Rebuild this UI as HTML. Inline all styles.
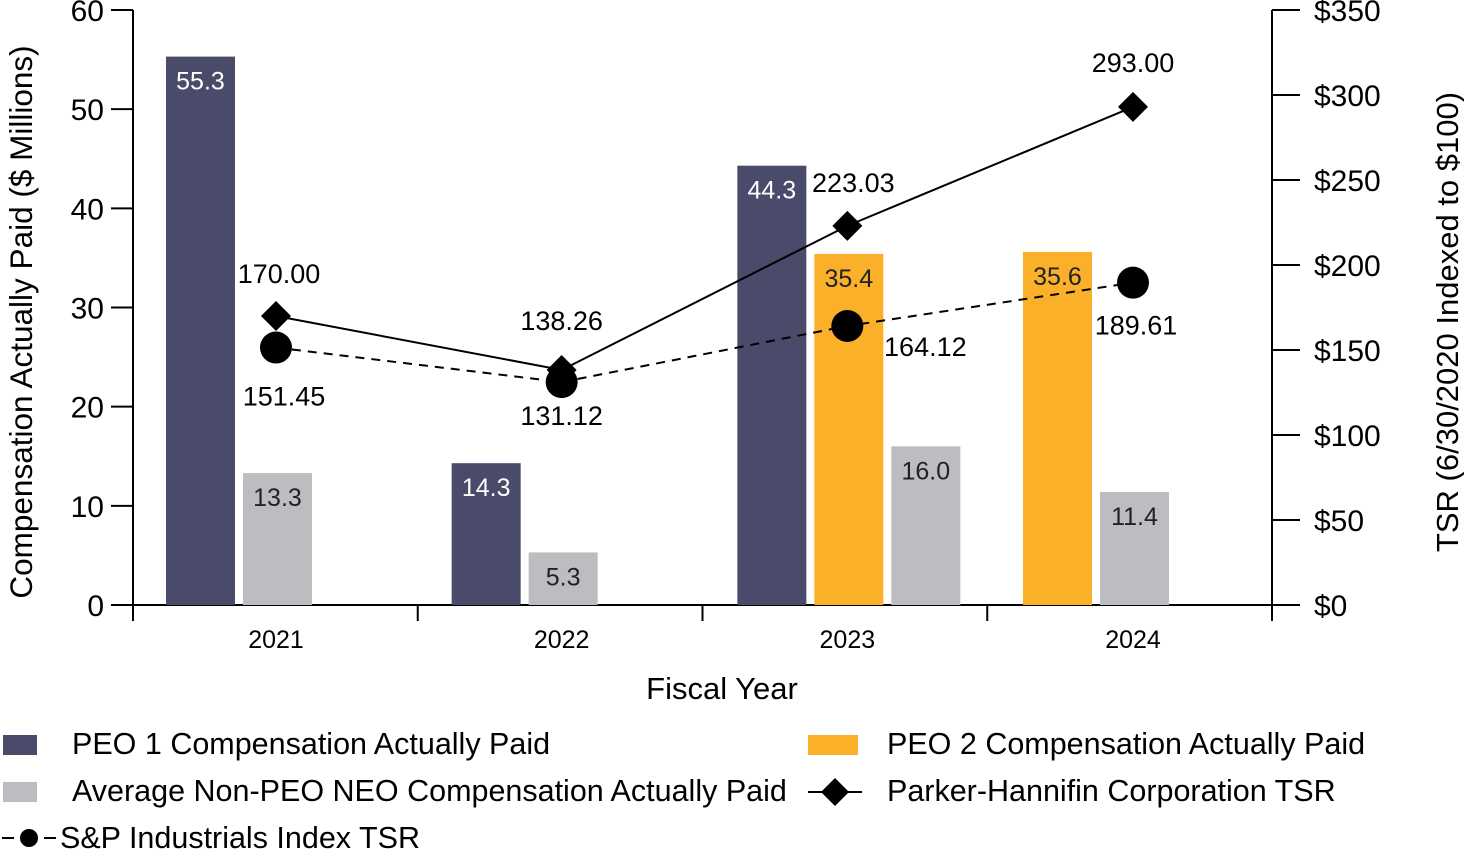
<!DOCTYPE html>
<html><head><meta charset="utf-8"><style>
body{margin:0;background:#fff}
svg text{font-family:"Liberation Sans Narrow","Liberation Sans",sans-serif}
</style></head><body>
<svg id="c" width="1464" height="852" viewBox="0 0 1464 852"></svg>
<script>
const categories=["2021","2022","2023","2024"];
const peo1=[55.3,14.3,44.3,null];
const peo2=[null,null,35.4,35.6];
const avgNeo=[13.3,5.3,16.0,11.4];
const phTsr=[170.00,138.26,223.03,293.00];
const spTsr=[151.45,131.12,164.12,189.61];
const leftTicks=[0,10,20,30,40,50,60];
const rightTicks=[0,50,100,150,200,250,300,350];

const NS="http://www.w3.org/2000/svg";
const svg=document.getElementById('c');
function el(t,a,txt){const e=document.createElementNS(NS,t);for(const k in a)e.setAttribute(k,a[k]);if(txt!=null)e.textContent=txt;svg.appendChild(e);return e;}
const X0=133,X1=1272,Y0=605,YT=10;
const yL=v=>Y0-(v/60)*(Y0-YT);
const yR=v=>Y0-(v/350)*(Y0-YT);
const gw=(X1-X0)/categories.length;
const cx=i=>276+i*((1133-276)/3);
const barW=69,barGap=8;

let a;
a=el('line',{x1:X0,y1:YT,x2:X0,y2:Y0,stroke:'#000','stroke-width':2});

a=el('line',{x1:X1,y1:YT,x2:X1,y2:Y0,stroke:'#000','stroke-width':2});

a=el('line',{x1:X0-22,y1:Y0,x2:X1+28,y2:Y0,stroke:'#000','stroke-width':2});

leftTicks.forEach(v=>{
  el('line',{x1:X0-22,y1:yL(v),x2:X0,y2:yL(v),stroke:'#000','stroke-width':2});
  const t=el('text',{x:104,y:yL(v)+11,'text-anchor':'end','font-size':30},v);
  
});
rightTicks.forEach(v=>{
  el('line',{x1:X1,y1:yR(v),x2:X1+28,y2:yR(v),stroke:'#000','stroke-width':2});
  const t=el('text',{x:1314,y:yR(v)+11,'font-size':30},'$'+v);
  
});
for(let i=0;i<=categories.length;i++){const x=X0+i*gw;el('line',{x1:x,y1:Y0,x2:x,y2:Y0+16,stroke:'#000','stroke-width':2});}
categories.forEach((c,i)=>{const t=el('text',{x:cx(i),y:648,'text-anchor':'middle','font-size':25},c);
});

const series=[{d:peo1,f:'#4a4a6a',tc:'#fff',n:'peo1-bar'},{d:peo2,f:'#fbb02a',tc:'#222',n:'peo2-bar'},{d:avgNeo,f:'#bcbdc0',tc:'#222',n:'avg-neo-bar'}];
categories.forEach((c,i)=>{
  const left=cx(i)-110;let slot=0;
  series.forEach(s=>{const v=s.d[i];if(v==null)return;
    const x=left+slot*(barW+barGap);slot++;
    const r=el('rect',{x:x,y:yL(v),width:barW,height:Y0-yL(v),fill:s.f});
    
    const t=el('text',{x:x+barW/2,y:yL(v)+33,'text-anchor':'middle','font-size':25,fill:s.tc},v.toFixed(1));
    
  });
});

const spPts=spTsr.map((v,i)=>cx(i)+','+yR(v)).join(' ');
let l=el('polyline',{points:spPts,fill:'none',stroke:'#000','stroke-width':2,'stroke-dasharray':'9,7'});

const phPts=phTsr.map((v,i)=>cx(i)+','+yR(v)).join(' ');
l=el('polyline',{points:phPts,fill:'none',stroke:'#000','stroke-width':2});

const phOff=[[3,-33],[0,-40],[6,-34],[0,-35]];
const spOff=[[8,58],[0,43],[78,30],[3,52]];
phTsr.forEach((v,i)=>{const x=cx(i),y=yR(v);
  const p=el('polygon',{points:`${x},${y-15} ${x+15},${y} ${x},${y+15} ${x-15},${y}`,fill:'#000'});
  
  const t=el('text',{x:x+phOff[i][0],y:y+phOff[i][1],'text-anchor':'middle','font-size':27},v.toFixed(2));
  
});
spTsr.forEach((v,i)=>{const x=cx(i),y=yR(v);
  const p=el('circle',{cx:x,cy:y,r:16,fill:'#000'});
  
  const t=el('text',{x:x+spOff[i][0],y:y+spOff[i][1],'text-anchor':'middle','font-size':27},v.toFixed(2));
  
});

let t=el('text',{x:0,y:0,'text-anchor':'middle','font-size':31.5,transform:'translate(32,322) rotate(-90)'},'Compensation Actually Paid ($ Millions)');

t=el('text',{x:0,y:0,'text-anchor':'middle','font-size':31,transform:'translate(1458,322) rotate(-90)'},'TSR (6/30/2020 Indexed to $100)');

t=el('text',{x:722,y:699,'text-anchor':'middle','font-size':31},'Fiscal Year');


let r=el('rect',{x:3,y:735,width:34,height:20,fill:'#4a4a6a'});
t=el('text',{x:72,y:754,'font-size':30.5},'PEO 1 Compensation Actually Paid');
r=el('rect',{x:3,y:782,width:34,height:20,fill:'#bcbdc0'});
t=el('text',{x:72,y:801,'font-size':30.5},'Average Non-PEO NEO Compensation Actually Paid');
r=el('rect',{x:808,y:735,width:50,height:20,fill:'#fbb02a'});
t=el('text',{x:887,y:754,'font-size':30.5},'PEO 2 Compensation Actually Paid');
el('line',{x1:808,y1:792,x2:862,y2:792,stroke:'#000','stroke-width':2});
r=el('polygon',{points:'835,778 849,792 835,806 821,792',fill:'#000'});
t=el('text',{x:887,y:801,'font-size':30.5},'Parker-Hannifin Corporation TSR');
el('line',{x1:2,y1:838,x2:14,y2:838,stroke:'#000','stroke-width':2});
el('line',{x1:44,y1:838,x2:56,y2:838,stroke:'#000','stroke-width':2});
r=el('circle',{cx:29,cy:838,r:9,fill:'#000'});
t=el('text',{x:60,y:848,'font-size':30.5},'S&P Industrials Index TSR');
</script>
</body></html>
